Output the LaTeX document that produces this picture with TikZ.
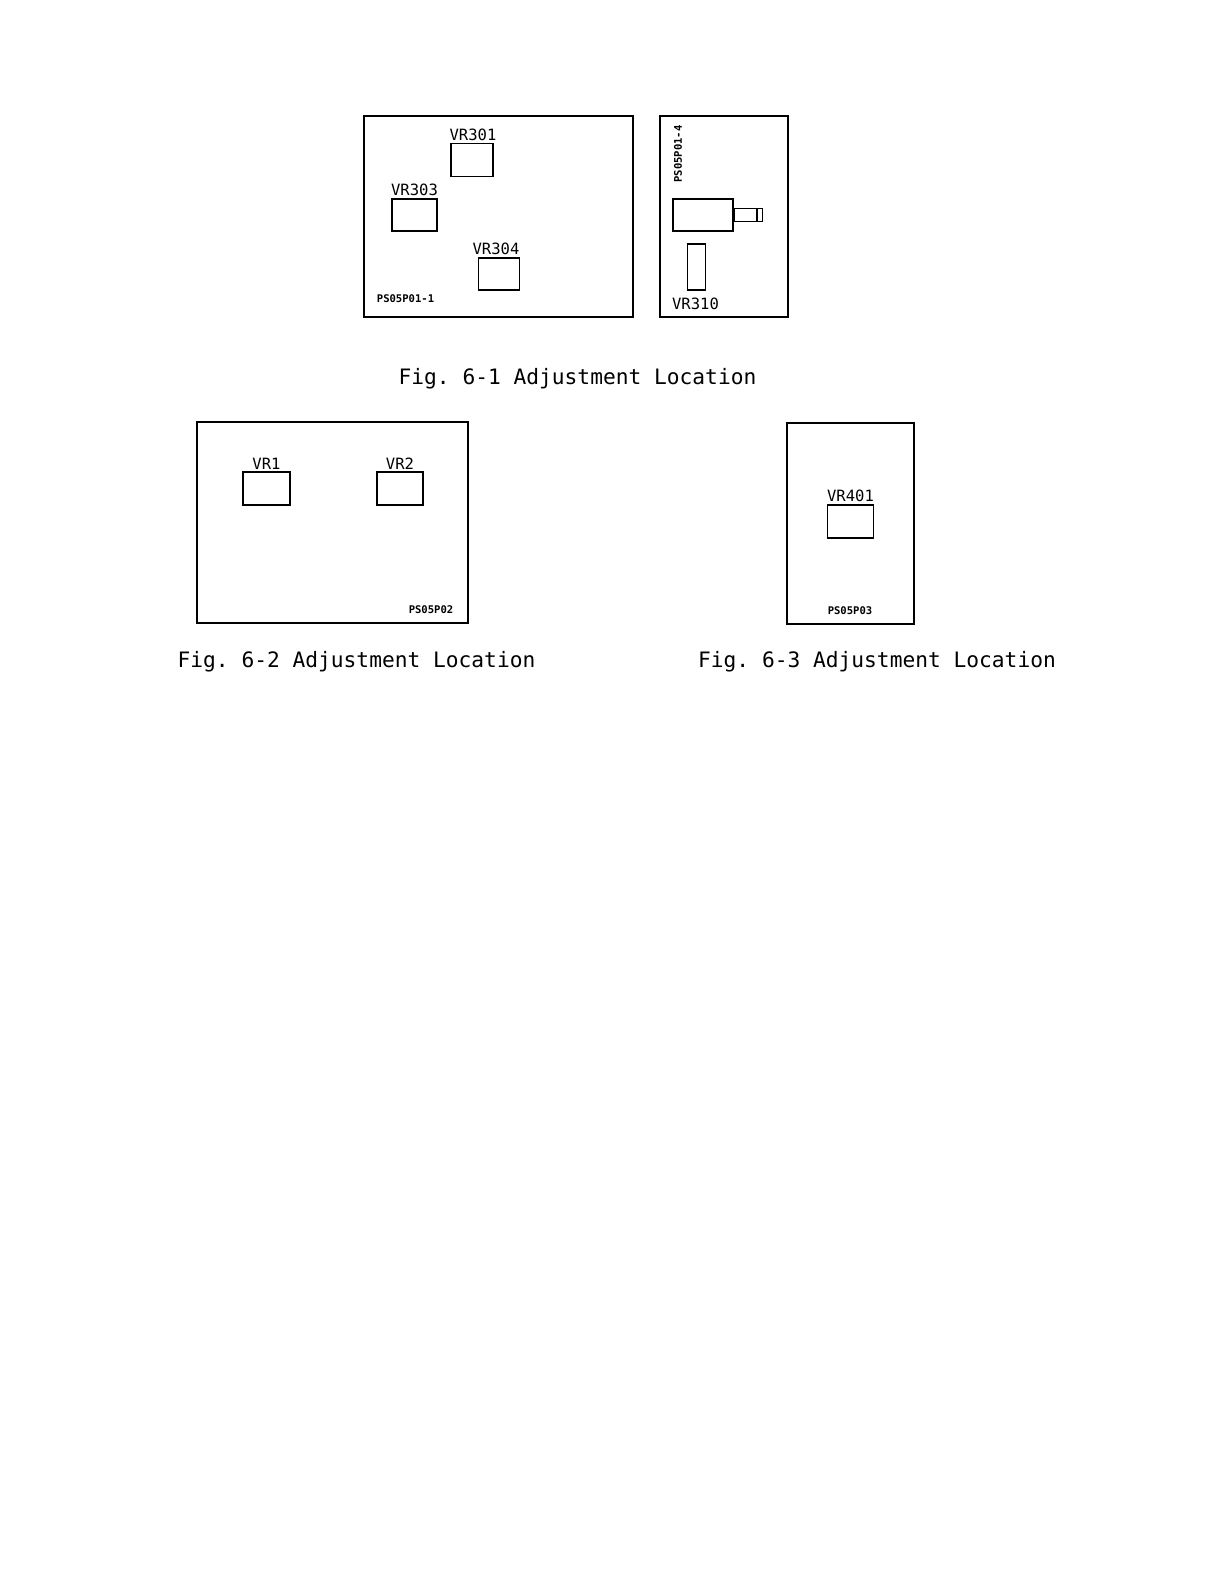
\documentclass[tikz,border=0pt]{standalone}
\usepackage{fontspec}
\setmonofont{DejaVu Sans Mono}
\usetikzlibrary{positioning}
\begin{document}
\begin{tikzpicture}[x=0.5bp,y=-0.5bp,
	board/.style={draw,line width=0.65pt,inner sep=0pt},
	part/.style={draw,line width=0.6pt,inner sep=0pt},
	vrtext/.style={inner sep=0.9pt,font=\ttfamily\fontsize{7.8}{8}\selectfont},
	boardtext/.style={inner sep=0pt,font=\ttfamily\bfseries\fontsize{5.3}{6}\selectfont},
	caption/.style={inner sep=0pt,font=\ttfamily\fontsize{10.65}{12}\selectfont}]

	\useasboundingbox (0,0) rectangle (1224,1584);

	% first figure
	\node[board, minimum width=134.5bp, minimum height=100.5bp] (board1) at (498.5,216.5) {};
	\node[board, minimum width=64bp, minimum height=100.5bp] (board4) at (724,216.5) {};
	\node[part, minimum width=21bp, minimum height=16.5bp] (vr301) at (472,160) {};
	\node[vrtext, above=0pt of vr301, xshift=0.5bp] (vr301text) {VR301};
	\node[part, minimum width=22.5bp, minimum height=16bp] (vr303) at (414.5,215) {};
	\node[vrtext, above=0pt of vr303] (vr303text) {VR303};
	\node[part, minimum width=20.5bp, minimum height=16bp] (vr304) at (499,274) {};
	\node[vrtext, above=0pt of vr304, xshift=-1.5bp] (vr304text) {VR304};
	\node[boardtext] (name1) at (405.5,299) {PS05P01-1};

	\node[boardtext, rotate=90] (name4) at (678,154) {PS05P01-4};
	\node[part, minimum width=30bp, minimum height=16bp] (body) at (703,215) {};
	\node[part, minimum width=11bp, minimum height=6.5bp, right=0pt of body] (shaft) {};
	\node[part, minimum width=2.5bp, minimum height=6.5bp, right=0pt of shaft] (tip) {};
	\node[part, minimum width=9bp, minimum height=23bp] (vr310) at (696.5,267) {};
	\node[vrtext, below=2.4pt of vr310, xshift=-0.5bp] (vr310text) {VR310};
	\node[caption] (fig1) at (577.5,379) {Fig. 6-1 Adjustment Location};

	% second figure
	\node[board, minimum width=135.5bp, minimum height=100.5bp] (board2) at (332.5,522.5) {};
	\node[part, minimum width=23.5bp, minimum height=16.5bp] (vr1) at (266.5,488.5) {};
	\node[vrtext, above=0pt of vr1] (vr1text) {VR1};
	\node[part, minimum width=23bp, minimum height=16.5bp] (vr2) at (400,488.5) {};
	\node[vrtext, above=0pt of vr2] (vr2text) {VR2};
	\node[boardtext] (name2) at (431,610) {PS05P02};
	\node[caption] (fig2) at (356.5,662) {Fig. 6-2 Adjustment Location};

	% third figure
	\node[board, minimum width=63.5bp, minimum height=100.5bp] (board3) at (850.5,523.5) {};
	\node[part, minimum width=23bp, minimum height=16.5bp] (vr401) at (850.5,521.5) {};
	\node[vrtext, above=0pt of vr401] (vr401text) {VR401};
	\node[boardtext] (name3) at (850,611) {PS05P03};
	\node[caption] (fig3) at (877,662) {Fig. 6-3 Adjustment Location};

\end{tikzpicture}
\end{document}
